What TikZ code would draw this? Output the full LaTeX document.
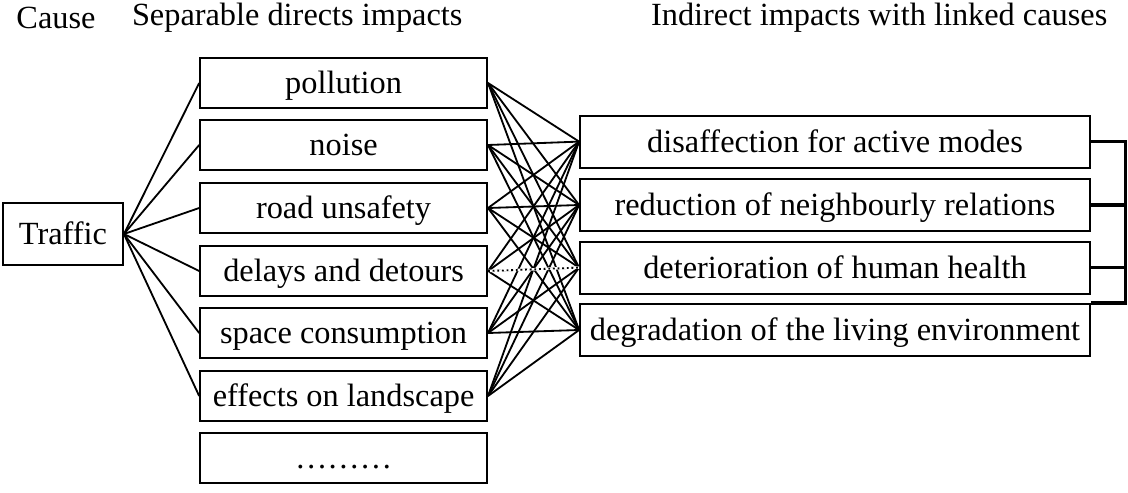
\documentclass[tikz,border=0pt]{standalone}
\usepackage{fontspec}
\setmainfont{Liberation Serif}
\usepackage{tikz}
\usetikzlibrary{calc, positioning}

\tikzset{
  box/.style={draw, line width=1.3pt, minimum height=1.25cm, inner sep=0pt,
    text height=15pt, text depth=0pt},
  direct/.style={box, minimum width=7.175cm},
  indirect/.style={box, minimum width=12.75cm, minimum height=1.3cm},
  link/.style={line width=1.3pt},
  bracket/.style={line width=2.6pt}
}

\begin{document}
\begin{tikzpicture}[font=\fontsize{23}{27}\selectfont]
  \useasboundingbox (0,0) rectangle (28.2,-12.325);
  % headings
  \node (hcause) at (1.4,-0.45) {Cause};
  \node (hdirect) at (7.43,-0.45) {Separable directs impacts};
  \node (hindirect) at (21.98,-0.45) {Indirect impacts with linked causes};
  % cause
  \node (traffic) at (1.575,-5.85) [box, minimum width=3cm, minimum height=1.55cm] {Traffic};
  % direct impacts
  \node (pol) at (8.59,-2.075) [direct] {pollution};
  \node (noi) at (8.59,-3.625) [direct] {noise};
  \node (roa) at (8.59,-5.2) [direct] {road unsafety};
  \node (del) at (8.59,-6.775) [direct] {delays and detours};
  \node (spa) at (8.59,-8.325) [direct] {space consumption};
  \node (eff) at (8.59,-9.9) [direct] {effects on landscape};
  \node (etc) at (8.59,-11.45) [direct] {\dots\dots\dots};
  % indirect impacts
  \node (dis) at (20.875,-3.54) [indirect] {disaffection for active modes};
  \node (red) at (20.875,-5.125) [indirect] {reduction of neighbourly relations};
  \node (det) at (20.875,-6.69) [indirect] {deterioration of human health};
  \node (deg) at (20.875,-8.25) [indirect] {degradation of the living environment};
  % links
  \foreach \d in {pol,noi,roa,del,spa,eff}
    \draw [link] (traffic.east) -- (\d.west);
  \foreach \d in {pol,noi,roa,del,spa,eff}
    \foreach \i in {dis,red,det,deg}
      \draw [link] (\d.east) -- (\i.west);
  \draw [link, white, line width=1.8pt] (del.east) -- (det.west);
  \draw [link, dotted] (del.east) -- (det.west);
  % bracket
  \coordinate (brk) at (28.14,0);
  \draw [bracket] (dis.east) -| (brk |- deg.north) -- (deg.north east);
  \draw [bracket] (red.east) -- (red.east -| brk);
  \draw [bracket] (det.east) -- (det.east -| brk);
\end{tikzpicture}
\end{document}
